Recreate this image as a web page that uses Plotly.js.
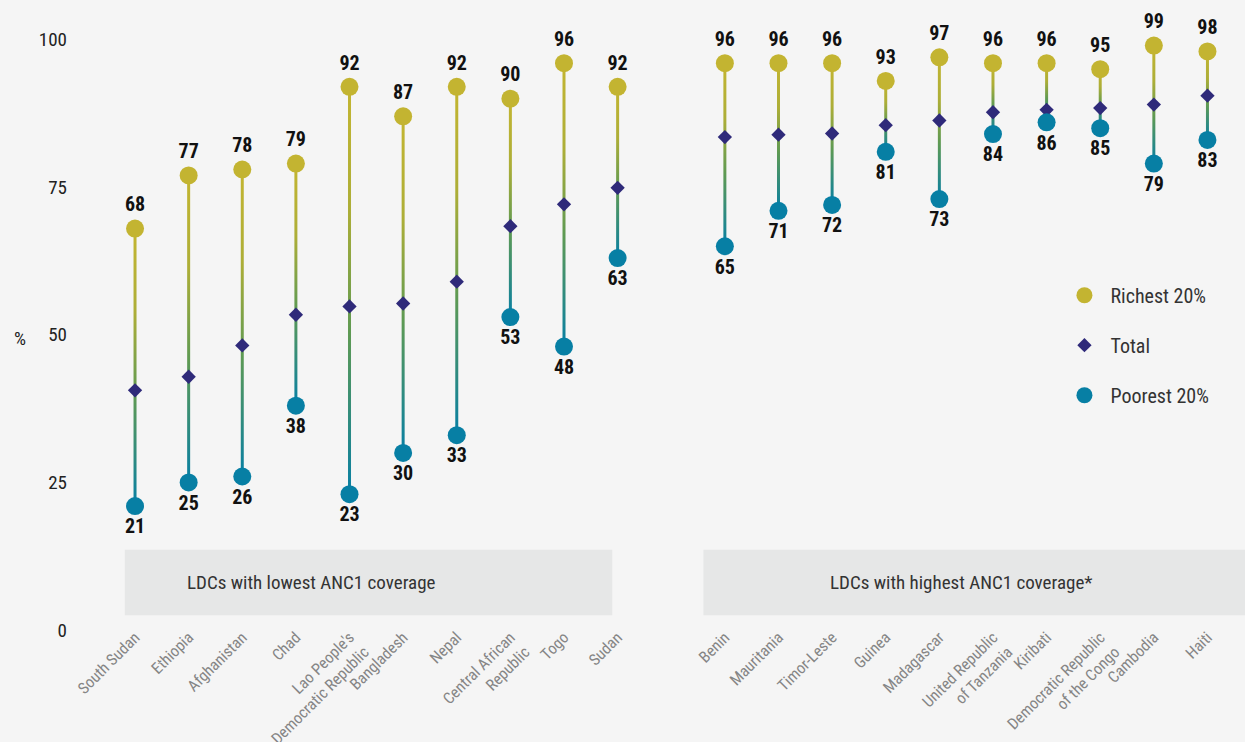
<!DOCTYPE html>
<html>
<head>
<meta charset="utf-8">
<script src="https://cdn.plot.ly/plotly-3.0.1.min.js"></script>
<style>
  html, body { margin: 0; padding: 0; background: #f5f5f5; }
  #chart { width: 1245px; height: 742px; }
</style>
</head>
<body>
<div id="chart"></div>
<script>
// ---- Data ----
const countriesLow = ['South Sudan', 'Ethiopia', 'Afghanistan', 'Chad', "Lao People's<br>Democratic Republic", 'Bangladesh', 'Nepal', 'Central African<br>Republic', 'Togo', 'Sudan'];
const richLow  = [68, 77, 78, 79, 92, 87, 92, 90, 96, 92];
const totalLow = [40.6, 42.9, 48.2, 53.4, 54.8, 55.3, 59.0, 68.4, 72.1, 74.9];
const poorLow  = [21, 25, 26, 38, 23, 30, 33, 53, 48, 63];

const countriesHigh = ['Benin', 'Mauritania', 'Timor-Leste', 'Guinea', 'Madagascar', 'United Republic<br>of Tanzania', 'Kiribati', 'Democratic Republic<br>of the Congo', 'Cambodia', 'Haiti'];
const richHigh  = [96, 96, 96, 93, 97, 96, 96, 95, 99, 98];
const totalHigh = [83.5, 83.9, 84.1, 85.5, 86.3, 87.7, 88.1, 88.4, 89.0, 90.5];
const poorHigh  = [65, 71, 72, 81, 73, 84, 86, 85, 79, 83];

const groupLabels = ['LDCs with lowest ANC1 coverage', 'LDCs with highest ANC1 coverage*'];
const yTicks = [0, 25, 50, 75, 100];

// ---- Build ----
const FONT = '"Roboto Condensed", "Liberation Sans Narrow", "Arial Narrow", Roboto, sans-serif';
const C_RICH = '#c3b431';
const C_TOTAL = '#2f2a7a';
const C_POOR = '#077fa4';

const names = countriesLow.concat(countriesHigh);
const rich = richLow.concat(richHigh);
const total = totalLow.concat(totalHigh);
const poor = poorLow.concat(poorHigh);
const xs = countriesLow.map((_, i) => i).concat(countriesHigh.map((_, i) => i + countriesLow.length + 1));

const traces = [];
for (let i = 0; i < xs.length; i++) {
  traces.push({
    type: 'scatter', mode: 'lines',
    x: [xs[i], xs[i]], y: [rich[i], poor[i]],
    line: { color: '#6a9e4a', width: 3 },
    showlegend: false, hoverinfo: 'skip'
  });
}
traces.push({
  type: 'scatter', mode: 'markers+text', name: 'Richest 20%',
  x: xs, y: rich, text: rich.map(String), textposition: 'top center',
  textfont: { family: FONT, size: 20, color: '#111', weight: 'bold' },
  marker: { symbol: 'circle', size: 18, color: C_RICH },
  legendgroup: 'a', cliponaxis: false
});
traces.push({
  type: 'scatter', mode: 'markers', name: 'Total',
  x: xs, y: total,
  marker: { symbol: 'diamond', size: 11, color: C_TOTAL },
  legendgroup: 'b', cliponaxis: false
});
traces.push({
  type: 'scatter', mode: 'markers+text', name: 'Poorest 20%',
  x: xs, y: poor, text: poor.map(String), textposition: 'bottom center',
  textfont: { family: FONT, size: 20, color: '#111', weight: 'bold' },
  marker: { symbol: 'circle', size: 18, color: C_POOR },
  legendgroup: 'c', cliponaxis: false
});

const nLow = countriesLow.length;
const lastX = xs[xs.length - 1];

const layout = {
  width: 1245, height: 742,
  paper_bgcolor: '#f5f5f5', plot_bgcolor: '#f5f5f5',
  margin: { l: 68, r: 0, t: 16, b: 112 },
  font: { family: FONT, color: '#222' },
  xaxis: {
    range: [-1.25, lastX + 0.7],
    tickvals: xs, ticktext: names, tickangle: -45,
    tickfont: { family: FONT, size: 16, color: '#858585' },
    ticklabelstandoff: -6,
    showgrid: false, zeroline: false, showline: false, ticks: '',
    fixedrange: true
  },
  yaxis: {
    range: [0, 104],
    tickvals: yTicks, ticktext: yTicks.map(String),
    tickfont: { family: FONT, size: 19, color: '#222' },
    showgrid: false, zeroline: false, showline: false, ticks: '',
    fixedrange: true
  },
  showlegend: true,
  legend: {
    x: 0.8415, y: 0.577, xanchor: 'left', yanchor: 'top',
    bgcolor: 'rgba(0,0,0,0)',
    font: { family: FONT, size: 20, color: '#333' },
    itemwidth: 42,
    tracegroupgap: 21, traceorder: 'grouped'
  },
  shapes: [
    { type: 'rect', layer: 'below', xref: 'x', yref: 'y',
      x0: -0.19, x1: nLow - 1.1, y0: 2.5, y1: 13.6,
      fillcolor: '#e6e7e7', line: { width: 0 } },
    { type: 'rect', layer: 'below', xref: 'x', yref: 'y',
      x0: nLow + 0.6, x1: lastX + 0.7, y0: 2.5, y1: 13.6,
      fillcolor: '#e6e7e7', line: { width: 0 } }
  ],
  annotations: [
    { xref: 'x', yref: 'y', x: 3.3, y: 8, text: groupLabels[0], showarrow: false,
      font: { family: FONT, size: 19, color: '#333' } },
    { xref: 'x', yref: 'y', x: 15.4, y: 8, text: groupLabels[1], showarrow: false,
      font: { family: FONT, size: 19, color: '#333' } },
    { xref: 'paper', yref: 'y', x: -0.048, y: 49.4, text: '%', showarrow: false,
      font: { family: FONT, size: 19, color: '#222' } }
  ]
};

Plotly.newPlot('chart', traces, layout, { staticPlot: true, displayModeBar: false }).then(gd => {
  const svg = gd.querySelector('svg.main-svg');
  const ns = 'http://www.w3.org/2000/svg';
  let defs = svg.querySelector('defs');
  if (!defs) { defs = document.createElementNS(ns, 'defs'); svg.insertBefore(defs, svg.firstChild); }
  const traceGroups = gd.querySelectorAll('.scatterlayer .trace');
  const stops = [[0, '#c3b531'], [0.3, '#adae37'], [0.6, '#5f9a52'], [1, '#077fa4']];
  traceGroups.forEach((g, idx) => {
    if (idx >= xs.length) return;
    const path = g.querySelector('path.js-line');
    if (!path) return;
    const nums = (path.getAttribute('d') || '').match(/-?\d+(\.\d+)?/g);
    if (!nums || nums.length < 4) return;
    const x1 = +nums[0], y1 = +nums[1], y2 = +nums[nums.length - 1];
    const id = 'lg' + idx;
    const lg = document.createElementNS(ns, 'linearGradient');
    lg.setAttribute('id', id);
    lg.setAttribute('gradientUnits', 'userSpaceOnUse');
    lg.setAttribute('x1', x1); lg.setAttribute('x2', x1);
    lg.setAttribute('y1', Math.min(y1, y2)); lg.setAttribute('y2', Math.max(y1, y2));
    stops.forEach(s => {
      const st = document.createElementNS(ns, 'stop');
      st.setAttribute('offset', s[0]);
      st.setAttribute('stop-color', s[1]);
      lg.appendChild(st);
    });
    defs.appendChild(lg);
    path.style.stroke = 'url(#' + id + ')';
  });
});
</script>
</body>
</html>
